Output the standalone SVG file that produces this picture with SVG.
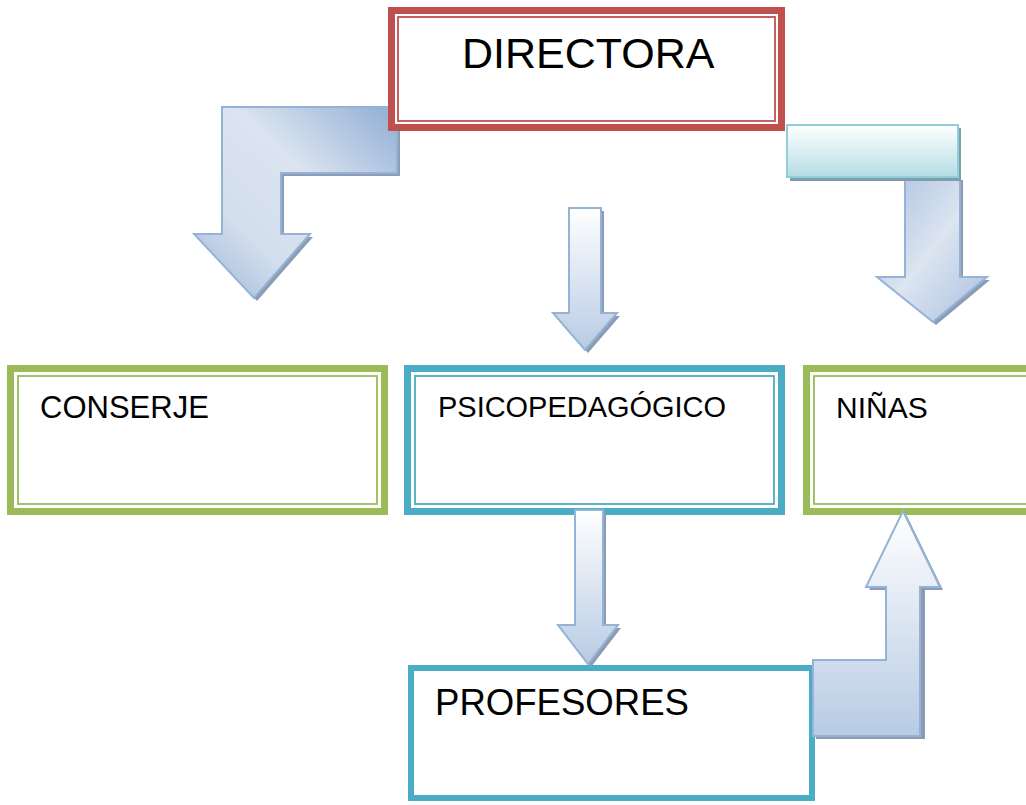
<svg xmlns="http://www.w3.org/2000/svg" width="1026" height="805" viewBox="0 0 1026 805">
<defs>
<style>
.lbl{font-family:"Liberation Sans",Arial,sans-serif;fill:#000}
.arr{stroke:#95b3d7;stroke-width:2;stroke-linejoin:miter}
.shd{fill:#8c9cb4}
</style>
<linearGradient id="gDiag" x1="1" y1="0" x2="0" y2="1">
<stop offset="0" stop-color="#8fadd5"/>
<stop offset="0.4" stop-color="#dbe4f0"/>
<stop offset="0.7" stop-color="#d3deed"/>
<stop offset="1" stop-color="#9bb5da"/>
</linearGradient>
<linearGradient id="gDiag2" x1="0" y1="0" x2="1" y2="1">
<stop offset="0" stop-color="#a9bfe0"/>
<stop offset="0.5" stop-color="#dce5f0"/>
<stop offset="1" stop-color="#a8bfdf"/>
</linearGradient>
<linearGradient id="gVert" x1="0" y1="0" x2="0" y2="1">
<stop offset="0" stop-color="#ffffff"/>
<stop offset="1" stop-color="#b8cbe4"/>
</linearGradient>
<linearGradient id="gTeal" x1="0" y1="0" x2="0" y2="1">
<stop offset="0" stop-color="#ffffff"/>
<stop offset="1" stop-color="#b5dce6"/>
</linearGradient>
</defs>

<g id="connectors">
<!-- left bent arrow DIRECTORA -> CONSERJE -->
<path class="shd" d="M225,110 L400,110 L400,176 L284,176 L284,237 L313,237 L257,301 L197,237 L225,237 Z"/>
<path class="arr" fill="url(#gDiag)" d="M222,107 L397,107 L397,173 L281,173 L281,234 L310,234 L254,298 L194,234 L222,234 Z"/>
<!-- middle arrow DIRECTORA -> PSICOPEDAGOGICO -->
<path class="shd" d="M572,211 L604,211 L604,316 L620,316 L588,353 L556,316 L572,316 Z"/>
<path class="arr" fill="url(#gVert)" d="M569,208 L601,208 L601,313 L617,313 L585,350 L553,313 L569,313 Z"/>
<!-- right bent arrow DIRECTORA -> NIÑAS -->
<path class="shd" d="M908,180 L963,180 L963,280 L990,280 L936,325 L880,280 L908,280 Z"/>
<path class="arr" fill="url(#gDiag2)" d="M905,177 L960,177 L960,277 L987,277 L933,322 L877,277 L905,277 Z"/>
<rect x="790" y="128" width="171" height="53" fill="#7f9da8"/>
<rect x="787" y="125" width="171" height="52" fill="url(#gTeal)" stroke="#92cddc" stroke-width="2"/>
</g>

<g id="node-directora">
<rect x="391.5" y="10.5" width="390" height="117" fill="#fff" stroke="#c0504d" stroke-width="7"/>
<rect x="398" y="17" width="377" height="104" fill="none" stroke="#c0504d" stroke-width="1.8"/>
<text class="lbl" x="462" y="68" font-size="43">DIRECTORA</text>
</g>

<g id="node-conserje">
<rect x="10.5" y="368.5" width="374" height="143" fill="#fff" stroke="#9bbb59" stroke-width="7"/>
<rect x="18" y="376" width="359" height="128" fill="none" stroke="#9bbb59" stroke-width="1.8"/>
<text class="lbl" x="40" y="418" font-size="31">CONSERJE</text>
</g>

<g id="node-psicopedagogico">
<rect x="407.5" y="368.5" width="374" height="143" fill="#fff" stroke="#4bacc6" stroke-width="7"/>
<rect x="415" y="376" width="359" height="128" fill="none" stroke="#4bacc6" stroke-width="1.8"/>
<text class="lbl" x="438" y="417" font-size="30" textLength="288" lengthAdjust="spacingAndGlyphs">PSICOPEDAGÓGICO</text>
</g>

<g id="node-ninas">
<rect x="806.5" y="368.5" width="230" height="143" fill="#fff" stroke="#9bbb59" stroke-width="7"/>
<rect x="814" y="376" width="220" height="128" fill="none" stroke="#9bbb59" stroke-width="1.8"/>
<text class="lbl" x="836" y="418" font-size="30">NIÑAS</text>
</g>

<g id="node-profesores">
<rect x="411" y="668" width="401" height="130" fill="#fff" stroke="#4bacc6" stroke-width="6"/>
<text class="lbl" x="435" y="715" font-size="37" textLength="254" lengthAdjust="spacingAndGlyphs">PROFESORES</text>
</g>

<g id="connectors-top">
<!-- PSICOPEDAGOGICO -> PROFESORES -->
<path class="shd" d="M578,513 L606,513 L606,628 L621,628 L591,667 L561,628 L578,628 Z"/>
<path class="arr" fill="url(#gVert)" d="M575,510 L603,510 L603,625 L618,625 L588,664 L558,625 L575,625 Z"/>
<!-- PROFESORES -> NIÑAS -->
<path class="shd" d="M816,663 L889,663 L889,590 L869,590 L906,514 L943,590 L925,590 L925,739 L816,739 Z"/>
<path class="arr" fill="url(#gVert)" d="M813,660 L886,660 L886,587 L866,587 L903,511 L940,587 L920,587 L920,736 L813,736 Z"/>
</g>
</svg>
